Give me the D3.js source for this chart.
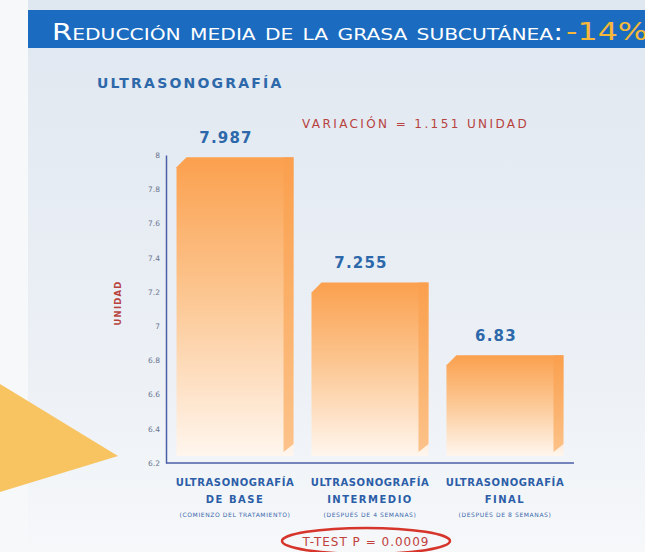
<!DOCTYPE html>
<html>
<head>
<meta charset="utf-8">
<script src="https://cdn.jsdelivr.net/npm/d3@7"></script>
<style>
  body { margin: 0; background: #f7f8fa; }
  svg { display: block; }
</style>
</head>
<body>
<div chart></div>
<script>
const categories = ["ULTRASONOGRAFÍA|DE BASE", "ULTRASONOGRAFÍA|INTERMEDIO", "ULTRASONOGRAFÍA|FINAL"];
const subtitles = ["(COMIENZO DEL TRATAMIENTO)", "(DESPUÉS DE 4 SEMANAS)", "(DESPUÉS DE 8 SEMANAS)"];
const values = [7.987, 7.255, 6.83];
const yTicks = [6.2, 6.4, 6.6, 6.8, 7, 7.2, 7.4, 7.6, 7.8, 8];

const width = 645, height = 552;
const font = "'DejaVu Sans', sans-serif";

const svg = d3.select("[chart]")
  .append("svg")
  .attr("width", width)
  .attr("height", height);

const defs = svg.append("defs");

// panel background
const bg = defs.append("linearGradient").attr("id", "bg")
  .attr("x1", 0).attr("y1", 0).attr("x2", 0).attr("y2", 1);
bg.append("stop").attr("offset", "0%").attr("stop-color", "#dfe7f0");
bg.append("stop").attr("offset", "70%").attr("stop-color", "#edf1f6");
bg.append("stop").attr("offset", "100%").attr("stop-color", "#f6f8fa");

// bar fill: orange at top fading to near white
const barGrad = defs.append("linearGradient").attr("id", "barGrad")
  .attr("x1", 0).attr("y1", 0).attr("x2", 0).attr("y2", 1);
barGrad.append("stop").attr("offset", "0%").attr("stop-color", "#fba04e");
barGrad.append("stop").attr("offset", "45%").attr("stop-color", "#fcc58f");
barGrad.append("stop").attr("offset", "100%").attr("stop-color", "#fff6ee");

const sideGrad = defs.append("linearGradient").attr("id", "sideGrad")
  .attr("x1", 0).attr("y1", 0).attr("x2", 0).attr("y2", 1);
sideGrad.append("stop").attr("offset", "0%").attr("stop-color", "#fa9f4d");
sideGrad.append("stop").attr("offset", "100%").attr("stop-color", "#fbb26a");

svg.append("rect").attr("x", 28).attr("y", 0).attr("width", width - 28).attr("height", height)
  .attr("fill", "url(#bg)");

// header band
svg.append("rect").attr("x", 28).attr("y", 10).attr("width", width - 28).attr("height", 38)
  .attr("fill", "#1b6cc0");

const title = svg.append("text")
  .attr("x", 52).attr("y", 40)
  .attr("font-family", font)
  .attr("font-size", 23)
  .style("font-variant", "small-caps")
  .attr("fill", "#ffffff");
title.append("tspan").text("Reducción media de la grasa subcutánea:")
  .attr("textLength", 511).attr("lengthAdjust", "spacingAndGlyphs");
title.append("tspan").attr("x", 566).attr("fill", "#f5b83a").attr("font-size", 25)
  .attr("textLength", 82).attr("lengthAdjust", "spacingAndGlyphs")
  .text("-14%");

// big arrow on the left
svg.append("path")
  .attr("d", "M0,384 L118,456 L0,492 Z")
  .attr("fill", "#f8c462");

svg.append("text")
  .attr("x", 97).attr("y", 88)
  .attr("font-family", font).attr("font-weight", "bold")
  .attr("font-size", 14).attr("letter-spacing", 2.2)
  .attr("fill", "#2c68aa")
  .text("ULTRASONOGRAFÍA");

svg.append("text")
  .attr("x", 302).attr("y", 128)
  .attr("font-family", font)
  .attr("font-size", 12).attr("letter-spacing", 2.4)
  .attr("fill", "#b8423e")
  .text("VARIACIÓN = 1.151 UNIDAD");

// scales
const x = d3.scaleBand()
  .domain(categories)
  .range([166, 574])
  .paddingInner(0.133)
  .paddingOuter(0.078);

const y = d3.scaleLinear()
  .domain([6.2, 8])
  .range([463, 155]);

// y axis
const yAxis = svg.append("g")
  .attr("transform", "translate(166,0)")
  .call(d3.axisLeft(y).tickValues(yTicks).tickSize(0).tickPadding(6)
    .tickFormat(d => d3.format("~g")(d)));
yAxis.select(".domain").attr("stroke", "#4b5fa8").attr("stroke-width", 1.5);
yAxis.selectAll("text")
  .attr("font-family", font).attr("font-size", 7.5)
  .attr("fill", "#6a7590");

// x axis line
svg.append("line")
  .attr("x1", 166).attr("x2", 574).attr("y1", 463).attr("y2", 463)
  .attr("stroke", "#4b5fa8").attr("stroke-width", 1.5);

svg.append("text")
  .attr("transform", "translate(121,303) rotate(-90)")
  .attr("text-anchor", "middle")
  .attr("font-family", font).attr("font-weight", "bold")
  .attr("font-size", 8.5).attr("letter-spacing", 1.2)
  .attr("fill", "#b8423e")
  .text("UNIDAD");

// bars with bevelled top-left corner and a darker right strip
const bev = 10, strip = 10, bottom = 456;
const bars = svg.selectAll("g.bar")
  .data(values)
  .enter()
  .append("g")
  .attr("class", "bar");

bars.append("path")
  .attr("d", (d, i) => {
    const x0 = x(categories[i]), x1 = x0 + x.bandwidth(), t = y(d);
    return `M${x0},${t + bev} L${x0 + bev},${t} L${x1},${t} L${x1},${bottom} L${x0},${bottom} Z`;
  })
  .attr("fill", "url(#barGrad)");

bars.append("path")
  .attr("d", (d, i) => {
    const x1 = x(categories[i]) + x.bandwidth(), t = y(d);
    return `M${x1 - strip},${t} L${x1},${t} L${x1},${bottom - 12} L${x1 - strip},${bottom - 4} Z`;
  })
  .attr("fill", "url(#sideGrad)")
  .attr("opacity", 0.75);

bars.append("text")
  .attr("x", (d, i) => x(categories[i]) + x.bandwidth() / 2)
  .attr("dx", -9)
  .attr("y", d => y(d) - 14)
  .attr("text-anchor", "middle")
  .attr("font-family", font).attr("font-weight", "bold")
  .attr("font-size", 15).attr("letter-spacing", 1.2)
  .attr("fill", "#2c68aa")
  .text(d => d);

// category labels
const labels = svg.selectAll("g.cat")
  .data(categories)
  .enter()
  .append("g")
  .attr("class", "cat")
  .attr("transform", d => `translate(${x(d) + x.bandwidth() / 2},0)`);

labels.append("text")
  .attr("y", 486)
  .attr("text-anchor", "middle")
  .attr("font-family", font).attr("font-weight", "bold")
  .attr("font-size", 10).attr("letter-spacing", 0.6)
  .attr("fill", "#2c5ea8")
  .text(d => d.split("|")[0]);

labels.append("text")
  .attr("y", 503)
  .attr("text-anchor", "middle")
  .attr("font-family", font).attr("font-weight", "bold")
  .attr("font-size", 10).attr("letter-spacing", 1.5)
  .attr("fill", "#2c5ea8")
  .text(d => d.split("|")[1]);

labels.append("text")
  .attr("y", 517)
  .attr("text-anchor", "middle")
  .attr("font-family", font)
  .attr("font-size", 6).attr("letter-spacing", 0.6)
  .attr("fill", "#3b67ad")
  .text((d, i) => subtitles[i]);

// t-test note circled in red
svg.append("ellipse")
  .attr("cx", 366).attr("cy", 541)
  .attr("rx", 84).attr("ry", 13)
  .attr("fill", "none")
  .attr("stroke", "#d6352b").attr("stroke-width", 2.5);

svg.append("text")
  .attr("x", 366).attr("y", 546)
  .attr("text-anchor", "middle")
  .attr("font-family", font)
  .attr("font-size", 12).attr("letter-spacing", 1)
  .attr("fill", "#c0403c")
  .text("T-TEST P = 0.0009");
</script>
</body>
</html>
